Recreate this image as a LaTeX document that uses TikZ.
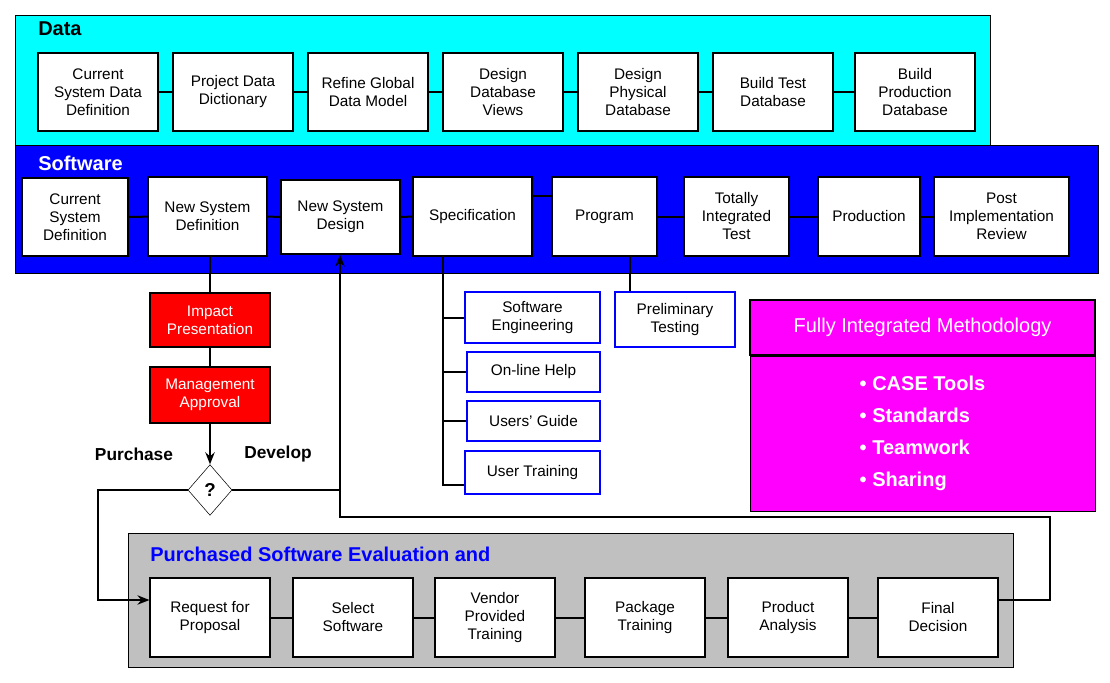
\documentclass[tikz,border=0pt]{standalone}
\usepackage{fontspec}
\setmainfont{Liberation Sans}
\usetikzlibrary{shapes.geometric,arrows.meta}
\definecolor{cy}{RGB}{0,255,255}
\definecolor{bl}{RGB}{0,0,255}
\definecolor{mg}{RGB}{255,0,255}
\definecolor{rd}{RGB}{255,0,0}
\definecolor{gr}{RGB}{192,192,192}
\begin{document}
\begin{tikzpicture}[x=0.75pt,y=-0.75pt,
  box/.style={draw=black,fill=white,line width=0.8pt,align=center,font=\fontsize{11.5}{13.5}\selectfont,inner sep=1pt},
  bbox/.style={box,draw=bl,line width=1.5pt},
  rbox/.style={box,fill=rd,text=white},
  ln/.style={line width=1.5pt},
  ttl/.style={font=\fontsize{15}{18}\selectfont\bfseries,anchor=west,inner sep=0pt}]
\useasboundingbox (0,0) rectangle (1110,682);
\def\bx#1#2#3#4#5#6#7{\node[#1,minimum width={(#4-#2)*0.75pt},minimum height={(#5-#3)*0.75pt}] (#6) at ({(#2+#4)/2},{(#3+#5)/2}) {#7};}
% panels
\draw[fill=cy] (15,15) rectangle (990,145);
\node[ttl] (tdata) at (38,29) {Data};
\draw[fill=bl] (15,145) rectangle (1098,273);
\node[ttl,text=white] (tsoft) at (38,163) {Software};
\draw[fill=gr] (128,533) rectangle (1013,667);
\node[ttl,text=bl] (tpur) at (150,554) {Purchased Software Evaluation and};
% data boxes
\bx{box}{38}{53}{158}{131}{d1}{Current\\System Data\\Definition}
\bx{box}{173}{53}{293}{131}{d2}{Project Data\\Dictionary}
\bx{box}{308}{53}{428}{131}{d3}{Refine Global\\Data Model}
\bx{box}{443}{53}{563}{131}{d4}{Design\\Database\\Views}
\bx{box}{578}{53}{698}{131}{d5}{Design\\Physical\\Database}
\bx{box}{713}{53}{833}{131}{d6}{Build Test\\Database}
\bx{box}{855}{53}{975}{131}{d7}{Build\\Production\\Database}
\foreach \a/\b in {d1/d2,d2/d3,d3/d4,d4/d5,d5/d6,d6/d7} \draw[ln] (\a) -- (\b);
% software boxes
\bx{box}{22}{178}{128}{256}{s1}{Current\\System\\Definition}
\bx{box}{148}{177}{267}{256}{s2}{New System\\Definition}
\bx{box}{281}{180}{400}{254}{s3}{New System\\Design}
\bx{box}{413}{177}{532}{256}{s4}{Specification}
\bx{box}{552}{177}{657}{256}{s5}{Program}
\bx{box}{684}{177}{789}{256}{s6}{Totally\\Integrated\\Test}
\bx{box}{818}{177}{920}{256}{s7}{Production}
\bx{box}{934}{177}{1069}{256}{s8}{Post\\Implementation\\Review}
\foreach \a/\b in {s1/s2,s2/s3,s3/s4,s6/s7,s7/s8} \draw[ln] (\a) -- (\b);
\draw[ln] (s4.east|-0,196) -- (s5.west|-0,196);
\draw[ln] (s5) -- (s6);
% red boxes
\bx{rbox}{150}{293}{270}{347}{r1}{Impact\\Presentation}
\bx{rbox}{150}{367}{270}{423}{r2}{Management\\Approval}
\node[draw,diamond,fill=white,minimum width=33pt,minimum height=38pt,inner sep=0pt,font=\fontsize{14}{16}\selectfont\bfseries] (q) at (210,490) {?};
\draw[ln] (s2.south-|r1) -- (r1);
\draw[ln] (r1) -- (r2);
\draw[ln,-{Stealth[length=9pt,width=7pt]}] (r2) -- (q);
\node[font=\fontsize{13}{15}\selectfont\bfseries] (lp) at (134,454) {Purchase};
\node[font=\fontsize{13}{15}\selectfont\bfseries] (ld) at (278,454) {Develop};
% spec branches
\bx{bbox}{465}{292}{600}{343}{b1}{Software\\Engineering}
\bx{bbox}{467}{352}{600}{392}{b2}{On-line Help}
\bx{bbox}{467}{401}{600}{441}{b3}{Users' Guide}
\bx{bbox}{465}{451}{600}{494}{b4}{User Training}
\coordinate (sp) at (443,256);
\coordinate (spe) at (443,485);
\draw[ln] (sp) -- (spe) -- (spe-|b4.west);
\foreach \b in {b1,b2,b3} \draw[ln] (sp|-\b.west) -- (\b.west);
\bx{bbox}{615}{292}{735}{347}{pt}{Preliminary\\Testing}
\draw[ln] (s5.south-|630,0) -- (pt.north-|630,0);
% magenta
\bx{box,fill=mg,text=white,font=\fontsize{15}{18}\selectfont}{750}{300}{1095}{355}{mt}{Fully Integrated Methodology}
\node[draw,fill=mg,minimum width=258.75pt,minimum height=116.25pt,anchor=north,text=white,align=left,font=\fontsize{15}{24}\selectfont\bfseries] (mb) at (mt.south) {\textbullet\ CASE Tools\\\textbullet\ Standards\\\textbullet\ Teamwork\\\textbullet\ Sharing};
% purchase boxes
\bx{box}{150}{578}{270}{657}{p1}{Request for\\Proposal}
\bx{box}{293}{578}{413}{657}{p2}{Select\\Software}
\bx{box}{435}{578}{555}{657}{p3}{Vendor\\Provided\\Training}
\bx{box}{585}{578}{705}{657}{p4}{Package\\Training}
\bx{box}{728}{578}{848}{657}{p5}{Product\\Analysis}
\bx{box}{878}{578}{998}{657}{p6}{Final\\Decision}
\foreach \a/\b in {p1/p2,p2/p3,p3/p4,p4/p5,p5/p6} \draw[ln] (\a) -- (\b);
% loops
\coordinate (c1) at (98,490);
\coordinate (c2) at (98,600);
\draw[ln,-{Stealth[length=9pt,width=7pt]}] (q.west) -- (c1) -- (c2) -- (c2-|p1.west);
\coordinate (c3) at (340,490);
\coordinate (c4) at (340,517);
\coordinate (c5) at (1050,517);
\coordinate (c6) at (1050,600);
\draw[ln] (q.east) -- (c3);
\draw[ln,-{Stealth[length=9pt,width=7pt]}] (c6-|p6.east) -- (c6) -- (c5) -- (c4) -- (c4|-s3.south);
\end{tikzpicture}
\end{document}
